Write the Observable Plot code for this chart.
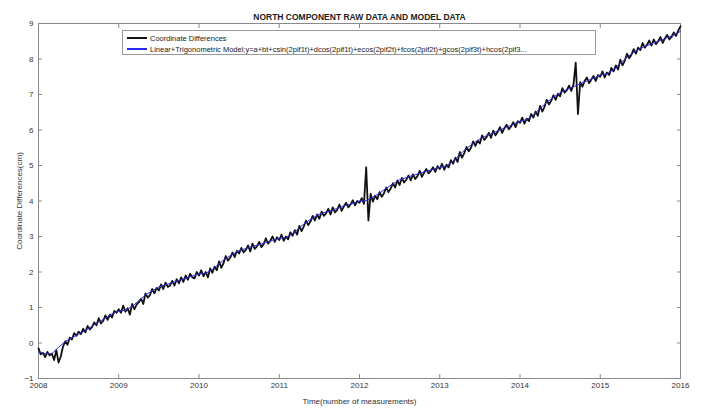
<!DOCTYPE html>
<html>
<head>
<meta charset="utf-8">
<script src="https://cdn.jsdelivr.net/npm/d3@7"></script>
<script src="https://cdn.jsdelivr.net/npm/@observablehq/plot@0.6"></script>
<style>
  html, body { margin: 0; padding: 0; background: #fff; }
  #wrap { position: relative; width: 702px; height: 408px; font-family: "Liberation Sans", Arial, sans-serif; }
  #legend { position: absolute; left: 122px; top: 30px; width: 474px; height: 25px; border: 1px solid #9a9a9a; background: #fff; font-size: 7.5px; color: #222; box-sizing: border-box; overflow: hidden; }
  .lrow { position: absolute; left: 4px; height: 10px; display: flex; align-items: center; white-space: nowrap; }
  .sw { display: inline-block; width: 20px; height: 2px; margin-right: 3px; }
</style>
</head>
<body>
<div id="wrap"></div>
<script>
const title = "NORTH COMPONENT RAW DATA AND MODEL DATA";
const xLabel = "Time(number of measurements)";
const yLabel = "Coordinate Differences(cm)";
const legendLabels = [
  "Coordinate Differences",
  "Linear+Trigonometric Model;y=a+bt+csin(2pif1t)+dcos(2pif1t)+ecos(2pif2t)+fcos(2pif2t)+gcos(2pif3t)+hcos(2pif3..."
];
const xTicks = [2008, 2009, 2010, 2011, 2012, 2013, 2014, 2015, 2016];
const yTicks = [-1, 0, 1, 2, 3, 4, 5, 6, 7, 8, 9];

// raw coordinate differences, 36 samples per year starting 2008.0
const rawStart = 2008;
const rawPerYear = 36;
const raw2008 = [-0.15,-0.32,-0.28,-0.40,-0.25,-0.35,-0.30,-0.48,-0.20,-0.55,-0.38,-0.10,
  0.05,-0.05,0.15,0.10,0.28,0.20,0.32,0.25,0.40,0.30,0.48,0.38,
  0.45,0.58,0.50,0.70,0.55,0.62,0.78,0.65,0.80,0.72,0.90,0.85];
const raw2009 = [0.95,0.85,1.05,0.88,0.98,0.80,1.10,0.95,1.08,1.15,1.25,1.10,
  1.40,1.28,1.35,1.52,1.40,1.55,1.48,1.65,1.52,1.70,1.58,1.62,
  1.75,1.62,1.80,1.68,1.85,1.72,1.90,1.78,1.95,1.85,1.82,2.00];
const raw2010 = [1.90,2.05,1.88,2.00,1.85,2.10,1.98,2.15,2.05,2.30,2.12,2.25,
  2.45,2.32,2.40,2.55,2.42,2.60,2.52,2.68,2.55,2.62,2.75,2.58,
  2.80,2.65,2.72,2.85,2.70,2.78,2.95,2.80,2.88,3.00,2.85,2.98];
const raw2011 = [2.90,3.05,2.88,3.00,2.92,3.12,3.02,3.18,3.05,3.30,3.15,3.28,
  3.45,3.32,3.42,3.58,3.45,3.62,3.50,3.70,3.58,3.65,3.78,3.62,
  3.82,3.68,3.75,3.90,3.72,3.85,3.95,3.82,3.90,4.02,3.88,4.00];
const raw2012 = [3.95,4.08,3.92,4.95,3.45,4.20,3.98,4.15,4.05,4.25,4.12,4.22,
  4.38,4.25,4.35,4.50,4.38,4.58,4.45,4.65,4.52,4.60,4.72,4.58,
  4.75,4.62,4.70,4.85,4.68,4.80,4.90,4.78,4.85,4.95,4.82,4.98];
const raw2013 = [4.90,5.05,4.88,5.02,4.95,5.15,5.05,5.22,5.10,5.38,5.22,5.35,
  5.52,5.40,5.50,5.68,5.55,5.70,5.62,5.85,5.72,5.80,5.92,5.78,
  5.98,5.85,5.95,6.08,5.92,6.05,6.15,6.02,6.10,6.22,6.08,6.25];
const raw2014 = [6.20,6.35,6.18,6.32,6.25,6.45,6.35,6.52,6.40,6.68,6.52,6.65,
  6.85,6.72,6.82,6.98,6.85,7.02,6.95,7.18,7.05,7.12,7.25,7.10,
  7.28,7.90,6.45,7.35,7.22,7.38,7.48,7.32,7.42,7.52,7.38,7.55];
const raw2015 = [7.50,7.65,7.48,7.62,7.55,7.75,7.65,7.82,7.70,7.98,7.82,7.95,
  8.15,8.02,8.12,8.28,8.15,8.32,8.25,8.45,8.32,8.40,8.52,8.38,
  8.55,8.42,8.50,8.62,8.45,8.58,8.68,8.55,8.62,8.75,8.65,8.80];
const raw2016 = [8.92];

// model values, monthly starting 2008.0
const modelStart = 2008;
const modelPerYear = 12;
const model2008 = [-0.25,-0.30,-0.30,-0.12,0.04,0.15,0.25,0.35,0.47,0.59,0.70,0.82];
const model2009 = [0.90,0.92,1.03,1.19,1.35,1.47,1.58,1.64,1.70,1.76,1.83,1.88];
const model2010 = [1.95,1.96,2.07,2.23,2.38,2.50,2.60,2.66,2.72,2.77,2.83,2.89];
const model2011 = [2.95,2.97,3.08,3.24,3.40,3.52,3.63,3.69,3.75,3.81,3.88,3.93];
const model2012 = [4.00,4.01,4.11,4.22,4.36,4.48,4.60,4.66,4.72,4.78,4.84,4.89];
const model2013 = [4.95,4.99,5.12,5.31,5.48,5.62,5.75,5.84,5.92,6.00,6.08,6.16];
const model2014 = [6.25,6.29,6.42,6.61,6.78,6.92,7.05,7.14,7.22,7.30,7.38,7.46];
const model2015 = [7.55,7.58,7.70,7.88,8.05,8.18,8.30,8.38,8.45,8.52,8.60,8.67];
const model2016 = [8.78];

const rawValues = [].concat(raw2008, raw2009, raw2010, raw2011, raw2012, raw2013, raw2014, raw2015, raw2016);
const modelValues = [].concat(model2008, model2009, model2010, model2011, model2012, model2013, model2014, model2015, model2016);
const rawData = rawValues.map((v, i) => ({t: rawStart + i / rawPerYear, v}));
const modelData = modelValues.map((v, i) => ({t: modelStart + i / modelPerYear, v}));

const font = "Liberation Sans, Arial, sans-serif";
const chart = Plot.plot({
  width: 702,
  height: 408,
  marginTop: 23,
  marginBottom: 30,
  marginLeft: 38,
  marginRight: 22,
  style: {fontFamily: font, fontSize: "8px", color: "#333", background: "#fff"},
  x: {domain: [2008, 2016], ticks: xTicks, tickFormat: d => String(d), label: null},
  y: {domain: [-1, 9], ticks: yTicks, label: null},
  marks: [
    Plot.frame({stroke: "#8a8a8a"}),
    Plot.axisX({anchor: "bottom", ticks: xTicks, tickSize: -4, tickPadding: 8, tickFormat: d => String(d), stroke: "#8a8a8a", label: xLabel, labelAnchor: "center", labelOffset: 25, labelArrow: "none", fontSize: 8}),
    Plot.axisX({anchor: "top", ticks: xTicks, tickSize: -4, tickFormat: () => "", stroke: "#8a8a8a", label: null}),
    Plot.axisY({anchor: "left", ticks: yTicks, tickSize: -4, tickPadding: 9, stroke: "#8a8a8a", label: yLabel, labelAnchor: "center", labelOffset: 22, labelArrow: "none", fontSize: 8}),
    Plot.axisY({anchor: "right", ticks: yTicks, tickSize: -4, tickFormat: () => "", stroke: "#8a8a8a", label: null}),
    Plot.line(rawData, {x: "t", y: "v", stroke: "#111", strokeWidth: 1.8}),
    Plot.line(modelData, {x: "t", y: "v", stroke: "#2a2adf", strokeWidth: 1}),
    Plot.text([title], {frameAnchor: "top", dy: -10, fontWeight: "bold", fontSize: 8.5, fill: "#222"})
  ]
});
const wrap = document.getElementById("wrap");
wrap.appendChild(chart);
const legend = document.createElement("div");
legend.id = "legend";
const colors = ["#111111", "#2a2aff"];
legendLabels.forEach((lab, i) => {
  const row = document.createElement("div");
  row.className = "lrow";
  row.style.top = (2 + i * 11) + "px";
  const sw = document.createElement("span");
  sw.className = "sw";
  sw.style.backgroundColor = colors[i];
  row.appendChild(sw);
  row.appendChild(document.createTextNode(lab));
  legend.appendChild(row);
});
wrap.appendChild(legend);
</script>
</body>
</html>
